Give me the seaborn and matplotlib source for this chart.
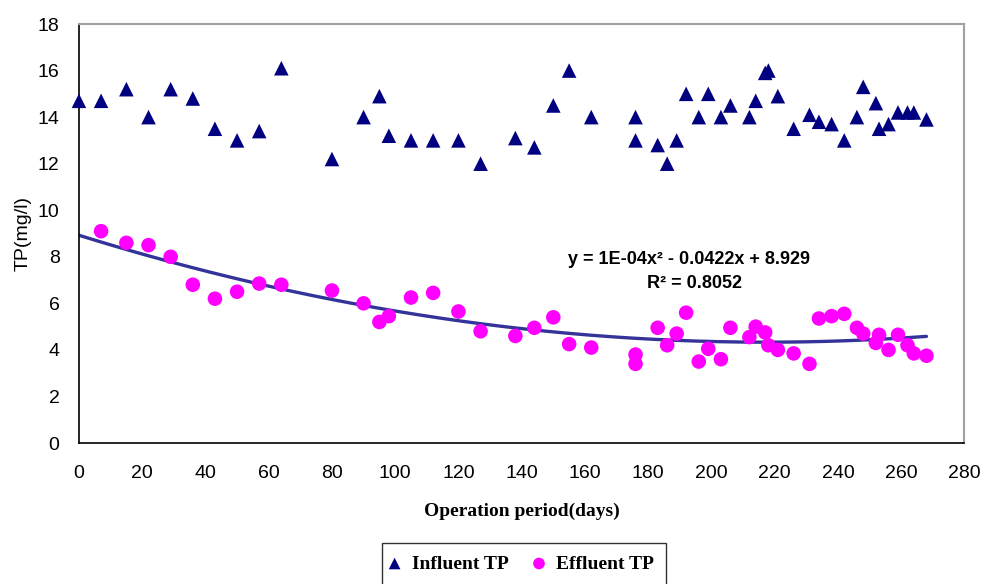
import numpy as np
import matplotlib.pyplot as plt
import seaborn as sns

sns.set_style("white")
plt.rcParams["font.family"] = ["Liberation Sans", "DejaVu Sans"]
plt.rcParams["text.color"] = "black"
plt.rcParams["axes.labelcolor"] = "black"
plt.rcParams["xtick.color"] = "black"
plt.rcParams["ytick.color"] = "black"

influent_days = [0, 7, 15, 22, 29, 36, 43, 50, 57, 64,
                 80, 90, 95, 98, 105, 112, 120, 127, 138, 144,
                 150, 155, 162, 176, 176, 183, 186, 189, 192, 196,
                 199, 203, 206, 212, 214, 217, 218, 221, 226, 231,
                 234, 238, 242, 246, 248, 252, 253, 256, 259, 262,
                 264, 268]
influent_tp = [14.7, 14.7, 15.2, 14.0, 15.2, 14.8, 13.5, 13.0, 13.4, 16.1,
               12.2, 14.0, 14.9, 13.2, 13.0, 13.0, 13.0, 12.0, 13.1, 12.7,
               14.5, 16.0, 14.0, 14.0, 13.0, 12.8, 12.0, 13.0, 15.0, 14.0,
               15.0, 14.0, 14.5, 14.0, 14.7, 15.9, 16.0, 14.9, 13.5, 14.1,
               13.8, 13.7, 13.0, 14.0, 15.3, 14.6, 13.5, 13.7, 14.2, 14.2,
               14.2, 13.9]

effluent_days = influent_days[1:]
effluent_tp = [9.1, 8.6, 8.5, 8.0, 6.8, 6.2, 6.5, 6.85, 6.8,
               6.55, 6.0, 5.2, 5.45, 6.25, 6.45, 5.65, 4.8, 4.6, 4.95,
               5.4, 4.25, 4.1, 3.8, 3.4, 4.95, 4.2, 4.7, 5.6, 3.5,
               4.05, 3.6, 4.95, 4.55, 5.0, 4.75, 4.2, 4.0, 3.85, 3.4,
               5.35, 5.45, 5.55, 4.95, 4.7, 4.3, 4.65, 4.0, 4.65, 4.2,
               3.85, 3.75]

equation_text = "y = 1E-04x² - 0.0422x + 8.929"
r2_text = "R² = 0.8052"

fig = plt.figure(figsize=(9.82, 5.84), dpi=100)
ax = fig.add_axes([0.0804, 0.2414, 0.9017, 0.7175])

# polynomial trendline (order 2) fitted to the effluent series
coef = np.polyfit(effluent_days, effluent_tp, 2)
xs = np.linspace(0, max(effluent_days), 200)
ax.plot(xs, np.polyval(coef, xs), color="#333399", linewidth=2.4, zorder=2)

sns.scatterplot(x=influent_days, y=influent_tp, marker="^", s=110,
                color="#000080", edgecolor="none", ax=ax, zorder=3,
                label="Influent TP")
sns.scatterplot(x=effluent_days, y=effluent_tp, marker="o", s=110,
                color="#FF00FF", edgecolor="none", ax=ax, zorder=3,
                label="Effluent TP")
for coll in ax.collections:
    coll.set_clip_on(False)

ax.set_xlim(0, 280)
ax.set_ylim(0, 18)
ax.set_xticks(range(0, 281, 20))
ax.set_yticks(range(0, 19, 2))
ax.tick_params(axis="both", direction="out", length=6, width=1,
               color="black", labelsize=14)
ax.tick_params(axis="x", pad=10)
ax.tick_params(axis="y", pad=8)

for side in ["left", "bottom"]:
    ax.spines[side].set_color("black")
    ax.spines[side].set_linewidth(1.2)
for side in ["top", "right"]:
    ax.spines[side].set_color("#A0A0A0")
    ax.spines[side].set_linewidth(1.5)

ax.set_ylabel("TP(mg/l)", fontsize=14, labelpad=4)
ax.set_xlabel("Operation period(days)", fontsize=14, fontweight="bold",
              family="Liberation Serif", labelpad=15)

ax.text(193, 7.9, equation_text, ha="center", va="center", fontsize=13,
        fontweight="bold")
ax.text(194.5, 6.85, r2_text, ha="center", va="center", fontsize=13,
        fontweight="bold")

leg = ax.legend(loc="upper center", bbox_to_anchor=(0.5336, 0.087),
                bbox_transform=fig.transFigure, ncol=2, frameon=True,
                fancybox=False, edgecolor="black", handlelength=0.1,
                handletextpad=0.85, columnspacing=1.5, borderpad=0.62,
                markerscale=0.8,
                prop={"family": "Liberation Serif", "weight": "bold",
                      "size": 14})
leg.get_frame().set_linewidth(1.0)

fig.savefig("out.png", dpi=100)
